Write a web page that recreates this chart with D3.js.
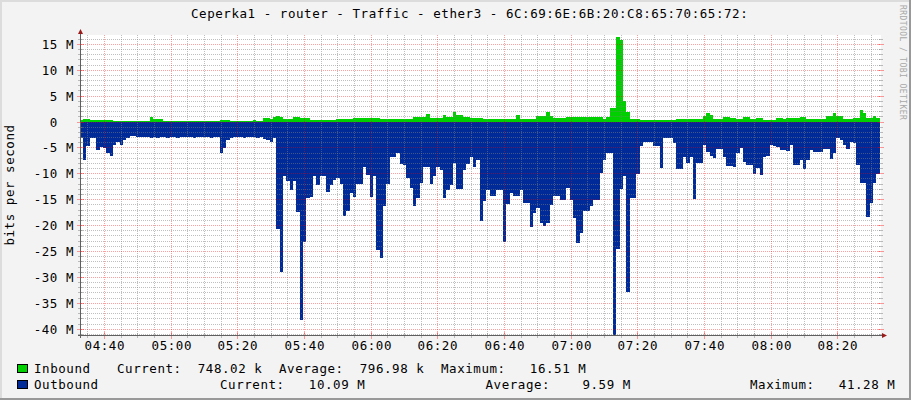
<!DOCTYPE html>
<html><head><meta charset="utf-8">
<script src="https://cdn.jsdelivr.net/npm/d3@7/dist/d3.min.js"></script>
<style>
body{margin:0;background:#F3F3F3;}
svg{display:block;}
text{font-family:"DejaVu Sans Mono",monospace;font-size:12.5px;letter-spacing:0.55px;fill:#000;}
</style>
</head><body><svg id="c" width="911" height="400"></svg>
<script>
// ---------------- data (values in Mbit/s, one sample per minute) ----------------
const chartTitle = "Ceperka1 - router - Traffic - ether3 - 6C:69:6E:6B:20:C8:65:70:65:72:";
const yAxisTitle = "bits per second";
const watermark = "RRDTOOL / TOBI OETIKER";
const seriesNames = ["Inbound", "Outbound"];
const seriesColors = ["#00CF00", "#002A97"];

const inbound = [
 0.3,0.5,0.5,0.4,0.4,0.4,0.4,0.4,0.4,0.4,
 0.2,0.2,0.2,0.2,0.2,0.2,0.2,0.2,0.2,0.2,
 0.2,1.0,0.5,0.5,0.5,0.2,0.2,0.2,0.2,0.2,
 0.2,0.2,0.2,0.2,0.2,0.2,0.2,0.2,0.2,0.2,
 0.2,0.2,0.4,0.4,0.4,0.2,0.2,0.2,0.2,0.2,
 0.2,0.2,0.4,0.2,0.2,0.8,0.8,0.6,1.0,1.1,
 1.0,0.5,0.5,0.5,0.9,0.9,0.7,0.7,0.7,0.4,
 0.4,0.4,0.4,0.4,0.4,0.4,0.4,0.5,0.5,0.5,
 0.5,0.5,0.8,0.8,0.8,0.8,0.8,0.8,0.8,0.8,
 0.6,0.6,0.6,0.6,0.6,0.6,0.6,0.6,0.6,0.6,
 0.9,0.9,0.9,0.9,1.5,0.8,0.8,0.8,0.8,1.3,
 0.9,0.9,1.9,1.4,1.4,0.9,0.9,0.8,0.8,0.8,
 0.8,0.6,0.6,0.6,0.6,0.6,0.6,0.6,0.6,0.6,
 0.6,1.3,0.6,0.6,0.6,0.6,0.6,1.2,1.2,1.2,
 1.9,1.2,0.8,0.8,0.8,0.8,0.9,0.9,0.9,0.9,
 1.0,1.0,1.0,1.0,0.9,0.9,0.9,0.6,0.9,2.7,
 2.7,16.51,15.8,4.1,2.0,0.6,0.6,0.6,0.4,0.4,
 0.4,0.4,0.4,0.4,0.4,0.4,0.4,0.4,0.4,0.5,
 0.5,0.5,0.5,0.5,0.5,0.5,0.5,1.2,1.7,1.3,
 0.6,0.6,0.6,0.9,0.9,0.7,0.7,0.5,0.5,0.9,
 0.9,0.5,0.5,0.8,0.8,0.4,0.4,0.4,0.4,0.8,
 0.8,0.5,0.7,0.7,0.7,0.7,0.9,0.9,0.5,0.5,
 0.5,0.5,0.5,0.5,1.2,1.2,1.7,1.2,1.2,0.5,
 0.5,0.5,0.8,0.8,2.4,1.8,0.8,0.8,1.2,0.75
];

const outbound = [
 3.0,7.4,4.7,3.1,3.1,5.4,4.9,5.0,6.0,6.5,
 4.5,3.8,4.5,3.4,3.0,2.7,2.7,2.8,2.9,2.8,
 2.9,3.0,2.9,3.0,2.8,2.9,3.0,2.9,2.9,3.0,
 2.9,2.8,2.9,2.9,3.0,2.9,2.9,2.9,2.9,3.0,
 2.9,2.9,6.0,5.1,3.5,3.0,2.9,2.9,2.9,3.0,
 2.9,2.9,2.9,3.0,2.9,3.2,3.5,3.9,3.1,20.7,
 29.0,10.5,11.3,13.2,11.3,17.4,38.2,23.2,14.7,14.4,
 10.5,12.1,10.5,10.5,13.6,12.1,11.2,10.8,11.9,18.2,
 17.2,13.7,14.4,11.9,11.9,8.6,10.2,14.4,10.4,24.7,
 26.3,16.3,11.9,6.7,6.7,5.9,8.1,8.3,10.8,12.8,
 16.2,14.7,11.8,8.7,8.7,11.9,10.5,8.7,9.2,14.6,
 13.1,12.1,7.9,12.9,12.9,9.2,8.1,6.7,8.6,7.3,
 19.2,15.3,13.2,14.2,14.2,13.1,13.1,23.2,15.8,13.7,
 14.2,14.2,13.2,15.6,15.6,20.3,17.6,16.6,19.4,20.1,
 19.4,16.0,14.2,14.2,15.1,15.1,12.8,15.1,18.5,23.3,
 21.5,17.2,17.2,16.2,15.0,15.0,9.9,7.3,6.0,6.0,
 41.28,24.5,13.0,10.5,32.9,14.7,14.7,10.0,4.7,3.8,
 3.8,3.8,4.7,4.7,8.9,3.1,3.1,3.0,4.0,9.1,
 9.1,6.7,7.9,6.7,14.9,7.9,7.9,4.4,5.7,6.5,
 6.9,5.2,5.2,6.8,8.5,8.5,8.7,6.0,5.1,7.8,
 8.3,8.3,10.0,8.9,10.2,6.8,6.5,4.4,4.6,4.9,
 5.4,5.4,5.5,4.4,8.3,8.3,7.3,9.1,7.3,5.4,
 5.8,5.8,5.8,5.3,5.3,7.2,6.0,3.1,3.5,4.4,
 5.2,3.8,4.1,8.3,11.8,11.8,18.3,15.6,11.8,10.09
];

const yTickValues = [15, 10, 5, 0, -5, -10, -15, -20, -25, -30, -35, -40];
const xTickLabels = ["04:40","05:00","05:20","05:40","06:00","06:20","06:40","07:00","07:20","07:40","08:00","08:20"];
const legendInbound  = ["Current:  748.02 k", "Average:  796.98 k", "Maximum:   16.51 M"];
const legendOutbound = ["Current:   10.09 M", "Average:    9.59 M", "Maximum:   41.28 M"];

// ---------------- layout ----------------
const W = 911, H = 400;
const PL = 81, PR = 881, PT = 35, PB = 335;
const day = (h, m, s) => new Date(2020, 0, 1, h, m, s || 0);
const plotStart = day(4, 32, 57);
const plotEnd = new Date(+plotStart + 240 * 60000);
const dataStart = new Date(+plotStart - 24000);
const MIN = 60000;

const svg = d3.select("#c");
const x = d3.scaleTime().domain([plotStart, plotEnd]).range([PL, PR]);
const y = d3.scaleLinear().domain([-41.12, 16.8]).range([PB, PT]);
const px = v => Math.floor(v) + 0.5;

// background and frame
svg.append("rect").attr("x",0).attr("y",0).attr("width",W).attr("height",H).attr("fill","#F3F3F3");
svg.append("rect").attr("x",0).attr("y",0).attr("width",W).attr("height",2).attr("fill","#DCDCDC");
svg.append("rect").attr("x",0).attr("y",0).attr("width",2).attr("height",H).attr("fill","#DCDCDC");
svg.append("rect").attr("x",W-2).attr("y",0).attr("width",2).attr("height",H).attr("fill","#999999");
svg.append("rect").attr("x",0).attr("y",H-2).attr("width",W).attr("height",2).attr("fill","#999999");

// canvas
svg.append("rect").attr("x",PL).attr("y",PT).attr("width",PR-PL).attr("height",PB-PT).attr("fill","#FFFFFF");

svg.append("defs").append("clipPath").attr("id","clip")
  .append("rect").attr("x",PL).attr("y",PT).attr("width",PR-PL).attr("height",PB-PT);

function series(vals, sign) {
  const pts = vals.map((v, i) => ({t: new Date(+dataStart + i * MIN), v: sign * v}));
  pts.push({t: new Date(+dataStart + vals.length * MIN), v: sign * vals[vals.length - 1]});
  return pts;
}
const area = d3.area().x(d => x(d.t)).y0(y(0)).y1(d => y(d.v)).curve(d3.curveStepAfter);
const g = svg.append("g").attr("clip-path","url(#clip)");
g.append("path").datum(series(outbound, -1)).attr("d", area).attr("fill", seriesColors[1]).attr("shape-rendering","crispEdges");
g.append("path").datum(series(inbound, 1)).attr("d", area).attr("fill", seriesColors[0]).attr("shape-rendering","crispEdges");

// grid
const minorCol = "rgba(128,128,128,0.5)", majorCol = "rgba(255,0,0,0.38)";
const grid = svg.append("g").attr("shape-rendering","crispEdges");
const minorY = d3.range(-41, 17).filter(v => v % 5 !== 0);
minorY.forEach(v => {
  const yy = px(y(v));
  grid.append("line").attr("x1",PL).attr("x2",PR).attr("y1",yy).attr("y2",yy).attr("stroke",minorCol).attr("stroke-dasharray","1,1");
  grid.append("line").attr("x1",PL-3).attr("x2",PL+2).attr("y1",yy).attr("y2",yy).attr("stroke",minorCol);
  grid.append("line").attr("x1",PR-2).attr("x2",PR+2).attr("y1",yy).attr("y2",yy).attr("stroke",minorCol);
});
const minorX = d3.timeMinute.every(5).range(plotStart, plotEnd).filter(t => t.getMinutes() % 20 !== 0);
minorX.forEach(t => {
  const xx = px(x(t));
  grid.append("line").attr("x1",xx).attr("x2",xx).attr("y1",PT).attr("y2",PB).attr("stroke",minorCol).attr("stroke-dasharray","1,1");
  grid.append("line").attr("x1",xx).attr("x2",xx).attr("y1",PB-2).attr("y2",PB+3).attr("stroke",minorCol);
});
yTickValues.forEach(v => {
  const yy = px(y(v));
  grid.append("line").attr("x1",PL).attr("x2",PR).attr("y1",yy).attr("y2",yy).attr("stroke",majorCol).attr("stroke-dasharray","1,1");
  grid.append("line").attr("x1",PL-4).attr("x2",PL+3).attr("y1",yy).attr("y2",yy).attr("stroke",majorCol);
  grid.append("line").attr("x1",PR-3).attr("x2",PR+3).attr("y1",yy).attr("y2",yy).attr("stroke",majorCol);
});
const majorX = xTickLabels.map(s => { const [h, m] = s.split(":").map(Number); return day(h, m); });
majorX.forEach(t => {
  const xx = px(x(t));
  grid.append("line").attr("x1",xx).attr("x2",xx).attr("y1",PT).attr("y2",PB).attr("stroke",majorCol).attr("stroke-dasharray","1,1");
  grid.append("line").attr("x1",xx).attr("x2",xx).attr("y1",PB-3).attr("y2",PB+4).attr("stroke",majorCol);
});

// axes
const axisCol = "#5F5F5F", arrowCol = "#9B1A1A";
svg.append("line").attr("x1",PL-0.5).attr("x2",PL-0.5).attr("y1",PT-2).attr("y2",PB+3).attr("stroke",axisCol).attr("shape-rendering","crispEdges");
svg.append("line").attr("x1",PL-3).attr("x2",PR+2).attr("y1",PB+0.5).attr("y2",PB+0.5).attr("stroke",axisCol).attr("shape-rendering","crispEdges");
svg.append("path").attr("d",`M${PL-3},${PT-1}L${PL+2},${PT-1}L${PL-0.5},${PT-6}Z`).attr("fill",arrowCol);
svg.append("path").attr("d",`M${PR+1},${PB-2}L${PR+1},${PB+3}L${PR+6},${PB+0.5}Z`).attr("fill",arrowCol);

// y tick labels
const adv = 8.08;
yTickValues.forEach(v => {
  const label = v === 0 ? "0" : `${v} M`;
  const endX = v === 0 ? 73.5 - 2 * adv : 73.5;
  svg.append("text").attr("x", endX + 0.55).attr("y", px(y(v)) + 4.5).attr("text-anchor","end").text(label);
});
// x tick labels
majorX.forEach((t, i) => {
  svg.append("text").attr("x", px(x(t)) + 0.3).attr("y", 350).attr("text-anchor","middle").text(xTickLabels[i]);
});

// titles
svg.append("text").attr("x", 191).attr("y", 18).text(chartTitle);
svg.append("text").attr("transform", `translate(13.5,${(PT+PB)/2}) rotate(-90)`).attr("text-anchor","middle").text(yAxisTitle);
svg.append("text").attr("transform", "translate(900,5) rotate(90)")
  .style("font-size","8px").style("letter-spacing","0.42px").style("fill","#A8A8A8").text(watermark);

// legend
const rows = [
  {name: seriesNames[0], color: seriesColors[0], y: 373, items: legendInbound, xs: [117, 279, 441]},
  {name: seriesNames[1], color: seriesColors[1], y: 389, items: legendOutbound, xs: [220, 485.5, 750]}
];
rows.forEach(r => {
  svg.append("rect").attr("x",17.5).attr("y",r.y-8.5).attr("width",10).attr("height",8)
    .attr("fill",r.color).attr("stroke","#000").attr("stroke-width",1);
  svg.append("text").attr("x",34).attr("y",r.y).text(r.name);
  r.items.forEach((s, i) => svg.append("text").attr("x", r.xs[i]).attr("y", r.y).attr("xml:space","preserve").style("white-space","pre").text(s));
});
</script>
</body></html>
